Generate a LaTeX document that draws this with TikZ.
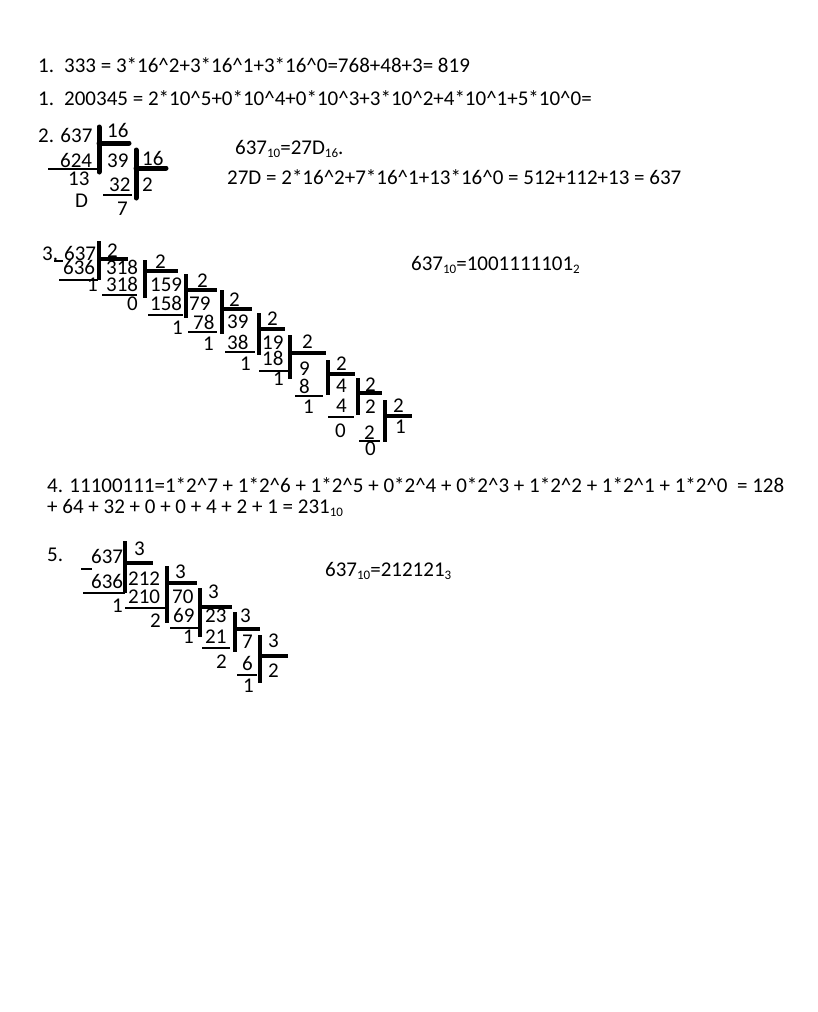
\documentclass[tikz,border=0pt]{standalone}
\usepackage{fontspec}
\setmainfont{Carlito}
\newcommand\sbs[1]{\raisebox{-3pt}{\fontsize{13}{13}\selectfont #1}}
\newcommand\crt{\textasciicircum}
\newcommand\mytxt[4]{\node[txt] (#1) at (#2,#3) {#4};}
\begin{document}
\begin{tikzpicture}[x=1pt,y=-1pt,
 txt/.style={anchor=base west,inner sep=0pt,font=\fontsize{21}{25}\selectfont},
 bar/.style={line width=4pt},
 bbar/.style={line width=5pt,line cap=round},
 uline/.style={line width=1.3pt}]
\useasboundingbox[fill=white] (0,0) rectangle (818,1012);
% Section 1
\mytxt{a1}{38}{72}{1.}
\mytxt{a2}{64}{72}{333 = 3*16\crt2+3*16\crt1+3*16\crt0=768+48+3= 819}
\mytxt{b1}{38}{105}{1.}
\mytxt{b2}{64}{105}{200345 = 2*10\crt5+0*10\crt4+0*10\crt3+3*10\crt2+4*10\crt1+5*10\crt0=}
% Section 2
\mytxt{c1}{38}{142}{2. 637}
\draw[bbar] (99,127) -- (99,172);
\draw[bbar] (99,143) -- (129,143);
\mytxt{c2}{107}{137}{16}
\mytxt{c3}{60}{167}{624}
\draw[uline] (48,169) -- (102,169);
\mytxt{c4}{107}{167}{39}
\mytxt{c5}{68}{185}{13}
\mytxt{c6}{75}{207}{D}
\draw[bbar] (136,150) -- (136,198);
\draw[bbar] (136,168) -- (166,168);
\mytxt{c7}{142}{165}{16}
\mytxt{c8}{142}{191}{2}
\mytxt{c9}{109}{191}{32}
\draw[uline] (103,195) -- (132,195);
\mytxt{c10}{117}{215}{7}
\mytxt{c11}{235}{154}{637\sbs{10}=27D\sbs{16}.}
\mytxt{c12}{227}{184}{27D = 2*16\crt2+7*16\crt1+13*16\crt0 = 512+112+13 = 637}
% Section 3
\mytxt{d1}{42}{260}{3.}
\draw[uline] (54,261) -- (63,261);
\mytxt{d2}{64}{260}{637}
\draw[bar] (99,241) -- (99,280);
\draw[bar] (99,259) -- (128,259);
\mytxt{d3}{107}{257}{2}
\mytxt{d4}{63}{274}{636}
\draw[uline] (59,280) -- (98,280);
\mytxt{d5}{106}{274}{318}
\mytxt{d6}{87}{291}{1}
\draw[bar] (145,260) -- (145,298);
\draw[bar] (145,271) -- (178,271);
\mytxt{d7}{155}{268}{2}
\mytxt{d8}{106}{291}{318}
\draw[uline] (102,295) -- (137,295);
\mytxt{d9}{150}{291}{159}
\mytxt{d10}{127}{310}{0}
\draw[bar] (186,274) -- (186,318);
\draw[bar] (186,290) -- (217,290);
\mytxt{d11}{197}{287}{2}
\mytxt{d12}{150}{310}{158}
\draw[uline] (148,315) -- (183,315);
\mytxt{d13}{189}{310}{79}
\mytxt{d14}{172}{334}{1}
\draw[bar] (222,290) -- (222,334);
\draw[bar] (222,309) -- (252,309);
\mytxt{d15}{229}{306}{2}
\mytxt{d16}{193}{329}{78}
\draw[uline] (188,332) -- (217,332);
\mytxt{d17}{227}{328}{39}
\mytxt{d18}{203}{350}{1}
\draw[bar] (259,313) -- (259,355);
\draw[bar] (259,329) -- (285,329);
\mytxt{d19}{267}{325}{2}
\mytxt{d20}{227}{349}{38}
\draw[uline] (225,352) -- (255,352);
\mytxt{d21}{262}{349}{19}
\mytxt{d22}{240}{370}{1}
\draw[bar] (290,335) -- (290,379);
\draw[bar] (290,353) -- (326,353);
\mytxt{d23}{302}{348}{2}
\mytxt{d24}{262}{365}{18}
\draw[uline] (259,371) -- (288,371);
\mytxt{d25}{299}{375}{9}
\mytxt{d26}{273}{385}{1}
\draw[bar] (328,360) -- (328,395);
\draw[bar] (328,374) -- (355,374);
\mytxt{d27}{336}{370}{2}
\mytxt{d28}{299}{393}{8}
\draw[uline] (295,396) -- (323,396);
\mytxt{d29}{336}{392}{4}
\mytxt{d30}{303}{413}{1}
\draw[bar] (358,378) -- (358,415);
\draw[bar] (358,393) -- (382,393);
\mytxt{d31}{365}{391}{2}
\mytxt{d32}{336}{412}{4}
\draw[uline] (328,417) -- (354,417);
\mytxt{d33}{365}{413}{2}
\mytxt{d34}{335}{437}{0}
\draw[bar] (385,400) -- (385,442);
\draw[bar] (385,416) -- (412,416);
\mytxt{d35}{393}{412}{2}
\mytxt{d36}{364}{439}{2}
\draw[uline] (359,441) -- (380,441);
\mytxt{d37}{395}{433}{1}
\mytxt{d38}{365}{455}{0}
\mytxt{d39}{411}{270}{637\sbs{10}=1001111101\sbs{2}}
% Section 4
\mytxt{e1}{47}{492}{4. 11100111=1*2\crt7 + 1*2\crt6 + 1*2\crt5 + 0*2\crt4 + 0*2\crt3 + 1*2\crt2 + 1*2\crt1 + 1*2\crt0\ \ = 128}
\mytxt{e2}{47}{513}{+ 64 + 32 + 0 + 0 + 4 + 2 + 1 = 231\sbs{10}}
% Section 5
\mytxt{f1}{47}{561}{5.}
\draw[uline] (81,569) -- (92,569);
\mytxt{f2}{91}{563}{637}
\draw[bar] (125,541) -- (125,593);
\draw[bar] (125,563) -- (153,563);
\mytxt{f3}{134}{555}{3}
\mytxt{f4}{91}{588}{636}
\draw[uline] (83,593) -- (125,593);
\mytxt{f5}{128}{585}{212}
\mytxt{f6}{112}{612}{1}
\mytxt{f7}{128}{603}{210}
\draw[uline] (125,608) -- (166,608);
\draw[bar] (167,566) -- (167,623);
\draw[bar] (167,583) -- (197,583);
\mytxt{f8}{175}{578}{3}
\mytxt{f9}{172}{603}{70}
\mytxt{f10}{150}{627}{2}
\mytxt{f11}{173}{622}{69}
\draw[uline] (170,628) -- (198,628);
\draw[bar] (200,588) -- (200,637);
\draw[bar] (200,607) -- (232,607);
\mytxt{f12}{208}{598}{3}
\mytxt{f13}{205}{622}{23}
\mytxt{f14}{183}{643}{1}
\mytxt{f15}{205}{643}{21}
\draw[uline] (202,648) -- (230,648);
\draw[bar] (235,612) -- (235,652);
\draw[bar] (235,629) -- (260,629);
\mytxt{f16}{240}{622}{3}
\mytxt{f17}{242}{648}{7}
\mytxt{f18}{216}{668}{2}
\mytxt{f19}{242}{670}{6}
\draw[uline] (237,675) -- (257,675);
\mytxt{f20}{243}{692}{1}
\draw[bar] (260,635) -- (260,683);
\draw[bar] (260,656) -- (288,656);
\mytxt{f21}{268}{647}{3}
\mytxt{f22}{268}{677}{2}
\mytxt{f23}{325}{576}{637\sbs{10}=212121\sbs{3}}
\end{tikzpicture}
\end{document}
